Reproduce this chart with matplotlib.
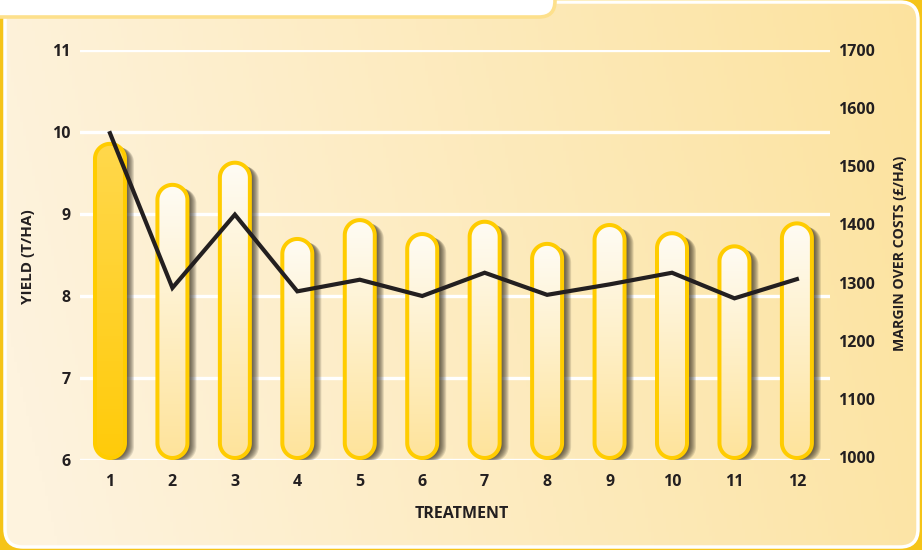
import numpy as np
import matplotlib
matplotlib.use('Agg')
import matplotlib.pyplot as plt
from matplotlib.path import Path
from matplotlib.patches import PathPatch, FancyBboxPatch
from matplotlib.colors import to_rgb
from matplotlib.transforms import offset_copy

# ---------------- data ----------------
treatments = ['1', '2', '3', '4', '5', '6', '7', '8', '9', '10', '11', '12']
yield_t_ha = [9.88, 9.38, 9.65, 8.72, 8.95, 8.78, 8.93, 8.66, 8.89, 8.79, 8.63, 8.91]
margin_gbp_ha = [1557, 1291, 1417, 1285, 1305, 1277, 1317, 1279, 1297, 1317, 1273, 1306]
yield_ticks = [6, 7, 8, 9, 10, 11]
margin_ticks = [1000, 1100, 1200, 1300, 1400, 1500, 1600, 1700]
highlight = [True] + [False] * 11

TXT = '#231F20'
FONT = ['Open Sans', 'DejaVu Sans']
plt.rcParams['font.family'] = FONT

W, H, DPI = 922, 550, 100
fig = plt.figure(figsize=(W / DPI, H / DPI), dpi=DPI, facecolor='#F5C419')

# ---------------- background ----------------
bg = fig.add_axes([0, 0, 1, 1], zorder=0)
bg.set_xlim(0, W)
bg.set_ylim(H, 0)
bg.axis('off')
gx = np.linspace(0, 1, 300)
gy = np.linspace(0, 1, 150)
GX, GY = np.meshgrid(gx, gy)
c0 = np.array(to_rgb('#FEF3DE'))
c1 = np.array(to_rgb('#FCE29C'))
t = np.clip(0.9 * GX + 0.12 * (1 - GY) - 0.05, 0, 1)
img = c0 * (1 - t)[..., None] + c1 * t[..., None]
panel = FancyBboxPatch((5, 2), 913, 545, boxstyle='round,pad=0,rounding_size=18',
                       fc='none', ec='white', lw=2.5, zorder=2)
bg.add_patch(panel)
im = bg.imshow(img, extent=(5, 918, 547, 2), aspect='auto', zorder=1)
im.set_clip_path(panel)
tab = FancyBboxPatch((-40, -40), 595, 57, boxstyle='round,pad=0,rounding_size=16',
                     fc='white', ec='#FDE08C', lw=2.6, zorder=3)
bg.add_patch(tab)
bg.set_xlim(0, W)
bg.set_ylim(H, 0)

# ---------------- main axes ----------------
AX_L, AX_R, AX_T, AX_B = 80, 830, 50, 460
ax = fig.add_axes([AX_L / W, 1 - AX_B / H, (AX_R - AX_L) / W, (AX_B - AX_T) / H], zorder=2)
ax.patch.set_visible(False)
XLIM = (0.52, 12.53)
YLIM = (6, 11)
ppx = (AX_R - AX_L) / (XLIM[1] - XLIM[0])
ppy = (AX_B - AX_T) / (YLIM[1] - YLIM[0])

x = np.arange(1, len(treatments) + 1)


def capsule(xc, y0, y1, w):
    rx = w / 2
    ry = rx * ppx / ppy
    th_t = np.linspace(0, np.pi, 40)
    th_b = np.linspace(np.pi, 2 * np.pi, 40)
    top = np.column_stack([xc + rx * np.cos(th_t), (y1 - ry) + ry * np.sin(th_t)])
    bot = np.column_stack([xc + rx * np.cos(th_b), (y0 + ry) + ry * np.sin(th_b)])
    verts = np.vstack([top, bot, top[:1]])
    codes = [Path.MOVETO] + [Path.LINETO] * (len(verts) - 2) + [Path.CLOSEPOLY]
    return Path(verts, codes)


bar_w = 30 / ppx
border_px = 4
ax.set_xlim(*XLIM)
ax.set_ylim(*YLIM)
for xi, yv, hl in zip(x, yield_t_ha, highlight):
    y0 = YLIM[0] + (border_px / 2) / ppy
    y1 = yv - (border_px / 2) / ppy
    p = capsule(xi, y0, y1, bar_w)
    # blurred drop shadow (offset in data units so it follows the axes scale)
    for d in [2, 3, 4, 5, 6, 7, 8, 9]:
        sp = Path(p.vertices + np.array([d / ppx, -0.4 * d / ppy]), p.codes)
        ax.add_patch(PathPatch(sp, fc='#2a2418', ec='none', alpha=0.14, zorder=2))
    if hl:
        ctop, cbot = to_rgb('#FFD84C'), to_rgb('#FFCB0A')
    else:
        ctop, cbot = to_rgb('#FFFCF5'), to_rgb('#FEE39A')
    g = np.linspace(0, 1, 100)[:, None]
    grad = np.array(ctop)[None, None, :] * (1 - g)[..., None] + np.array(cbot)[None, None, :] * g[..., None]
    edge = PathPatch(p, fc='none', ec='#FFCC00', lw=border_px * 72 / DPI, zorder=4)
    clip = PathPatch(p, fc='none', ec='none', transform=ax.transData)
    ax.add_patch(edge)
    gi = ax.imshow(grad, extent=(xi - bar_w / 2, xi + bar_w / 2, YLIM[0], yv), aspect='auto', zorder=3)
    gi.set_clip_path(clip)

ax.set_xlim(*XLIM)
ax.set_ylim(*YLIM)
ax.set_yticks(yield_ticks)
ax.set_xticks(x)
ax.set_xticklabels(treatments)
ax.set_axisbelow(True)
ax.yaxis.grid(True, color='white', lw=2.4)
ax.xaxis.grid(False)
for s in ax.spines.values():
    s.set_visible(False)
ax.tick_params(axis='y', length=0, pad=6.5, labelsize=11.5, labelcolor=TXT)
ax.tick_params(axis='x', length=0, pad=10, labelsize=11.5, labelcolor=TXT)
for lab in ax.get_xticklabels() + ax.get_yticklabels():
    lab.set_fontweight('bold')

# ---------------- right axis / line ----------------
ax2 = ax.twinx()
ax2.set_ylim(995, 1697)
ax2.set_yticks(margin_ticks)
for s in ax2.spines.values():
    s.set_visible(False)
ax2.tick_params(axis='y', length=0, pad=6, labelsize=11.5, labelcolor=TXT)
for lab in ax2.get_yticklabels():
    lab.set_fontweight('bold')
ax2.plot(x, margin_gbp_ha, color=TXT, lw=3.0, solid_joinstyle='miter', zorder=6)
ax2.set_xlim(*XLIM)

# ---------------- labels ----------------
fig.text(28 / W, 1 - 257 / H, 'YIELD (T/HA)', rotation=90, ha='center', va='center',
         fontsize=11, fontweight='bold', color=TXT)
fig.text(900 / W, 1 - 253 / H, 'MARGIN OVER COSTS (£/HA)', rotation=90, ha='center', va='center',
         fontsize=10.2, fontweight='bold', color=TXT)
fig.text(462 / W, 1 - 514 / H, 'TREATMENT', ha='center', va='center',
         fontsize=11.5, fontweight='bold', color=TXT)

fig.savefig('out.png', dpi=DPI, facecolor=fig.get_facecolor())
